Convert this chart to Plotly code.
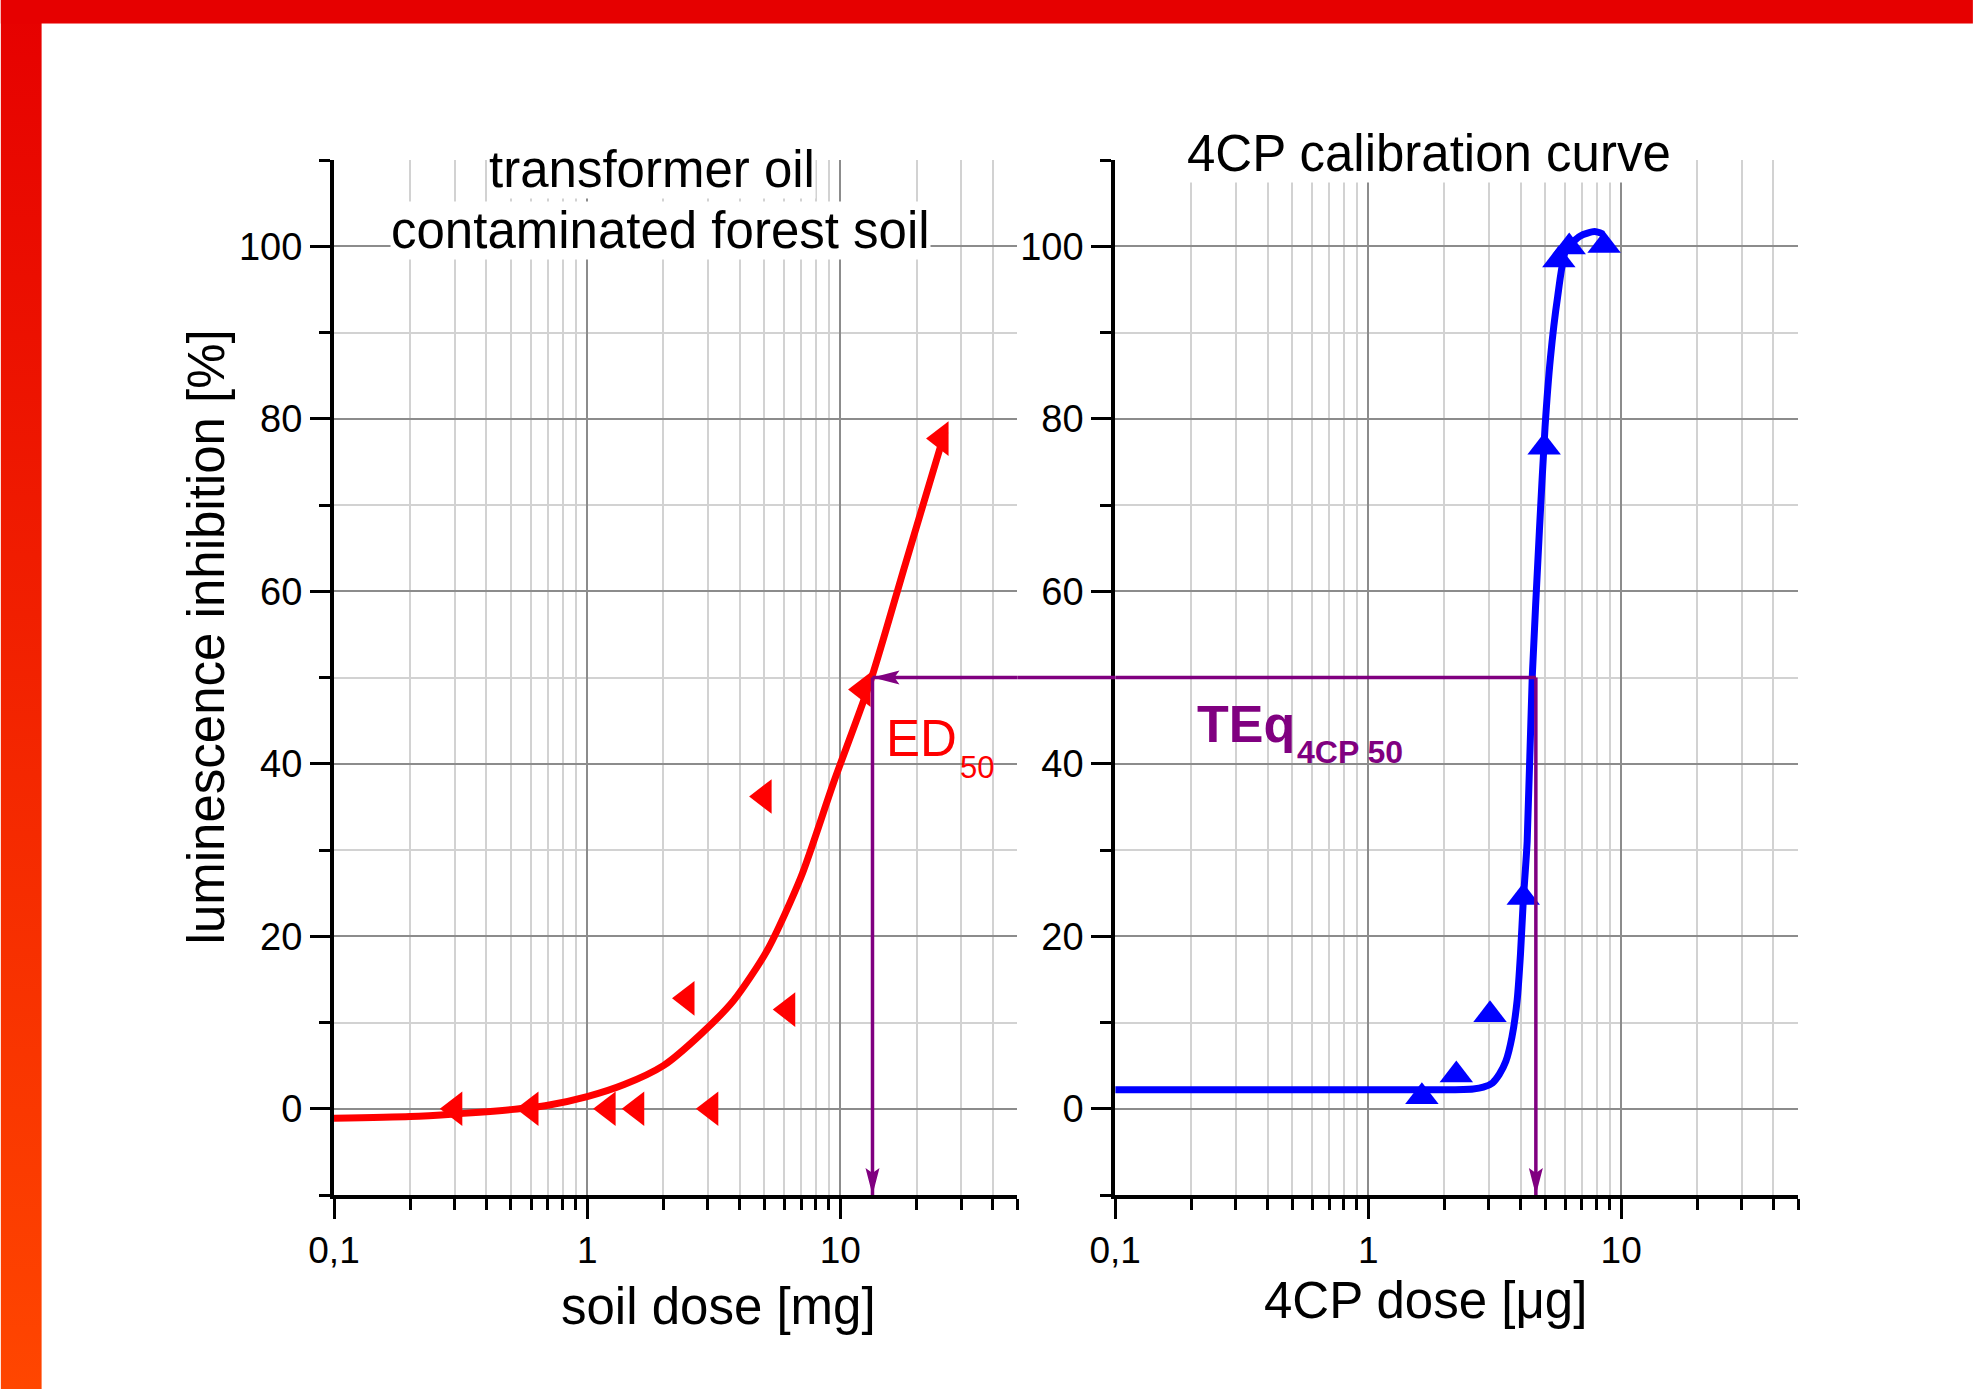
import base64
import numpy as np
import plotly.graph_objects as go

# ---------------- data ----------------
soil_dose = [0.30, 0.60, 1.21, 1.57, 2.48, 3.08, 5.0, 6.2, 12.3, 25.0]
soil_inhib = [0, 0, 0, 0, 12.8, 0, 36.2, 11.5, 48.6, 77.7]

soil_fit_x = [0.1, 0.2, 0.3, 0.5, 0.7, 1.0, 1.4, 2.0, 2.8, 3.8, 5.15, 7.0, 9.4, 13.2, 18.0, 25.9]
soil_fit_y = [-1.1, -0.9, -0.6, -0.1, 0.4, 1.4, 2.8, 5.0, 8.6, 12.6, 18.4, 26.9, 37.8, 49.7, 63.0, 78.5]

cp_dose = [1.63, 2.23, 3.03, 4.10, 4.96, 5.67, 6.23, 8.56]
cp_inhib = [1.4, 3.9, 10.9, 24.5, 76.7, 98.4, 99.9, 100.1]

cp_fit_x = [0.1, 1.0, 2.0, 2.6, 2.85, 3.1, 3.3, 3.5, 3.7, 3.88, 4.0, 4.1, 4.25, 4.45, 4.75,
            5.0, 5.25, 5.6, 6.05, 6.9, 7.85, 8.5]
cp_fit_y = [2.2, 2.2, 2.2, 2.3, 2.5, 3.0, 4.0, 5.5, 8.3, 12.6, 18.0, 24.0, 31.0, 50.0, 67.0,
            79.0, 87.0, 94.0, 99.6, 101.2, 101.7, 101.4]

ed50_dose = 13.4      # mg soil at 50 % inhibition
teq50_dose = 4.6      # µg 4CP at 50 % inhibition
level50 = 50

x_tick_vals = [0.1, 1, 10]
x_tick_text = ["0,1", "1", "10"]
x_minor_vals = [m * d for d in (0.1, 1, 10) for m in range(2, 10) if m * d <= 50]
y_tick_vals = [0, 20, 40, 60, 80, 100]

# ---------------- layout geometry ----------------
W, H = 1973, 1389
ml, mr, mt, mb = 333.5, 175, 160.4, 194.2
pw, ph = W - ml - mr, H - mt - mb
left_dom = [0, (1017 - ml) / pw]
right_dom = [(1115 - ml) / pw, 1]
x_lo, x_hi = 0.1, 50


def px(xp):
    return (xp - ml) / pw


def py(yp):
    return 1 - (yp - mt) / ph


FONT = "Liberation Sans, Arial, sans-serif"
PURPLE = "#800080"
GRID_MAJ = "#8c8c8c"
GRID_MIN = "#d2d2d2"


def xaxis(domain, anchor):
    return dict(type="log", range=[np.log10(x_lo), np.log10(x_hi)], domain=domain, anchor=anchor,
                showline=True, linecolor="black", linewidth=4,
                ticks="outside", ticklen=20, tickwidth=3, tickcolor="black",
                tickmode="array", tickvals=x_tick_vals, ticktext=x_tick_text,
                tickfont=dict(family=FONT, size=37, color="black"),
                showgrid=True, gridcolor=GRID_MAJ, gridwidth=1.5, zeroline=False,
                minor=dict(tickmode="array", tickvals=x_minor_vals, ticks="outside",
                           ticklen=11, tickwidth=3, tickcolor="black",
                           showgrid=True, gridcolor=GRID_MIN, gridwidth=1.5))


def yaxis(anchor):
    return dict(range=[-10, 110], domain=[0, 1], anchor=anchor,
                showline=True, linecolor="black", linewidth=4,
                ticks="outside", ticklen=20, tickwidth=3, tickcolor="black",
                tickmode="array", tickvals=y_tick_vals,
                tickfont=dict(family=FONT, size=38, color="black"),
                showgrid=True, gridcolor=GRID_MAJ, gridwidth=1.5, zeroline=False,
                minor=dict(dtick=10, tick0=0, ticks="outside", ticklen=11, tickwidth=3,
                           tickcolor="black", showgrid=True, gridcolor=GRID_MIN, gridwidth=1.5))


fig = go.Figure()

fig.add_trace(go.Scatter(x=soil_fit_x, y=soil_fit_y, mode="lines",
                         line=dict(color="#ff0000", width=7, shape="spline", smoothing=0.7),
                         xaxis="x", yaxis="y", showlegend=False))
fig.add_trace(go.Scatter(x=soil_dose, y=soil_inhib, mode="markers",
                         marker=dict(symbol="triangle-left", size=30, color="#ff0000"),
                         xaxis="x", yaxis="y", showlegend=False, cliponaxis=False))
fig.add_trace(go.Scatter(x=cp_fit_x, y=cp_fit_y, mode="lines",
                         line=dict(color="#0000ff", width=7, shape="spline", smoothing=0.6),
                         xaxis="x2", yaxis="y2", showlegend=False))
fig.add_trace(go.Scatter(x=cp_dose, y=cp_inhib, mode="markers",
                         marker=dict(symbol="triangle-up", size=29, color="#0000ff"),
                         xaxis="x2", yaxis="y2", showlegend=False, cliponaxis=False))

shapes = []
pl = dict(color=PURPLE, width=3.5)
# horizontal line: right panel part, gap, left panel part
shapes.append(dict(type="line", xref="x2", yref="y2", x0=x_lo, x1=teq50_dose, y0=level50, y1=level50, line=pl))
shapes.append(dict(type="line", xref="paper", yref="y", x0=left_dom[1], x1=right_dom[0], y0=level50, y1=level50, line=pl))
shapes.append(dict(type="line", xref="x", yref="y", x0=ed50_dose, x1=x_hi, y0=level50, y1=level50, line=pl))
# vertical drops
shapes.append(dict(type="line", xref="x", yref="y", x0=ed50_dose, x1=ed50_dose, y0=level50, y1=-10, line=pl))
shapes.append(dict(type="line", xref="x2", yref="y2", x0=teq50_dose, x1=teq50_dose, y0=level50, y1=-10, line=pl))
# arrow heads (pixel-sized paths)
head_left = "M0,0 L27,7 L22,0 L27,-7 Z"
head_down = "M0,0 L7,27 L0,22 L-7,27 Z"
shapes.append(dict(type="path", xref="x", yref="y", xsizemode="pixel", ysizemode="pixel",
                   xanchor=ed50_dose, yanchor=level50, path=head_left, fillcolor=PURPLE, line=dict(width=0)))
shapes.append(dict(type="path", xref="x", yref="y", xsizemode="pixel", ysizemode="pixel",
                   xanchor=ed50_dose, yanchor=-10, path=head_down, fillcolor=PURPLE, line=dict(width=0)))
shapes.append(dict(type="path", xref="x2", yref="y2", xsizemode="pixel", ysizemode="pixel",
                   xanchor=teq50_dose, yanchor=-10, path=head_down, fillcolor=PURPLE, line=dict(width=0)))

# red frame decoration
svg = ("<svg xmlns='http://www.w3.org/2000/svg' width='%d' height='%d' viewBox='0 0 %d %d' "
       "preserveAspectRatio='none'><defs><linearGradient id='g' x1='0' y1='0' x2='0' y2='1'>"
       "<stop offset='0' stop-color='#E60000'/><stop offset='1' stop-color='#FF4600'/>"
       "</linearGradient></defs><rect x='0' y='0' width='41' height='%d' fill='url(#g)'/>"
       "<rect x='0' y='0' width='%d' height='24' fill='#E60000'/></svg>") % (W, H, W, H, H, W)
src = "data:image/svg+xml;base64," + base64.b64encode(svg.encode()).decode()

txt = dict(family=FONT, size=51, color="black")
ann = []


def add_text(text, xp, yp, font, xanchor="center", yanchor="middle", bg=None, angle=0):
    d = dict(text=text, x=px(xp), y=py(yp), xref="paper", yref="paper", showarrow=False,
             xanchor=xanchor, yanchor=yanchor, font=font, textangle=angle, borderpad=0)
    if bg:
        d["bgcolor"] = bg
    ann.append(d)


add_text("transformer oil", 652, 170, txt, bg="white")
add_text("contaminated forest soil", 660, 231, txt, bg="white")
add_text("4CP calibration curve", 1429, 154, txt, bg="white")
add_text("soil dose [mg]", 718, 1306, txt)
add_text("4CP dose [μg]", 1425, 1300, txt)
add_text("luminescence inhibition [%]", 206, 637, txt, angle=-90)
add_text("ED", 885, 739, dict(family=FONT, size=51, color="#ff0000"), xanchor="left")
add_text("50", 959, 768, dict(family=FONT, size=31, color="#ff0000"), xanchor="left")
add_text("<b>TEq</b>", 1196, 724, dict(family=FONT, size=52, color=PURPLE), xanchor="left")
add_text("<b>4CP 50</b>", 1296, 752, dict(family=FONT, size=32, color=PURPLE), xanchor="left")

fig.update_layout(
    width=W, height=H,
    margin=dict(l=ml, r=mr, t=mt, b=mb, pad=0),
    paper_bgcolor="white", plot_bgcolor="rgba(0,0,0,0)",
    font=dict(family=FONT, color="black"),
    xaxis=xaxis(left_dom, "y"), yaxis=yaxis("x"),
    xaxis2=xaxis(right_dom, "y2"), yaxis2=yaxis("x2"),
    shapes=shapes, annotations=ann, showlegend=False,
    images=[dict(source=src, xref="paper", yref="paper", x=-ml / pw, y=1 + mt / ph,
                 sizex=W / pw, sizey=H / ph, xanchor="left", yanchor="top",
                 sizing="stretch", layer="below")],
)

fig.write_html("out.html", config={"displayModeBar": False},
               post_script="document.body.style.margin='0';document.body.style.overflow='hidden';")
